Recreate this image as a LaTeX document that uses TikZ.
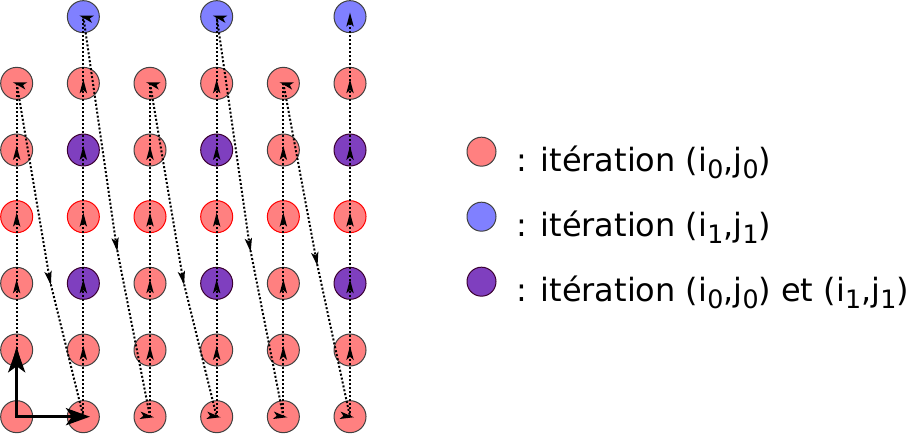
\documentclass[tikz,border=0pt]{standalone}
\usepackage{fontspec}
\setmainfont{DejaVu Sans}
\usetikzlibrary{arrows.meta}
\definecolor{salmon}{HTML}{FF8080}
\definecolor{lblue}{HTML}{8080FF}
\definecolor{lpurple}{HTML}{7F3FBF}
\definecolor{rimgray}{HTML}{404040}
\definecolor{rimpurple}{HTML}{3A0030}
\newcommand\lsub[1]{\raisebox{-0.2em}{\fontsize{19pt}{19pt}\selectfont #1}}
\begin{document}
\begin{tikzpicture}[x=0.75pt,y=-0.75pt,
  dot/.style={circle,draw=rimgray,line width=0.75pt,minimum size=24pt,inner sep=0pt,fill=salmon},
  itA/.style={fill=salmon},
  itB/.style={fill=lblue},
  itAB/.style={fill=lpurple,draw=rimpurple},
  rimred/.style={fill=salmon,draw=red},
  legdot/.style={dot,minimum size=21.75pt},
  dotline/.style={line width=1.5pt,dash pattern=on 1.5pt off 1.5pt},
  axisarrow/.style={line width=2.6pt,
    {Stealth[length=18pt,width=12.75pt,inset=4.5pt]}-{Stealth[length=18pt,width=12.75pt,inset=4.5pt]}},
  legtext/.style={anchor=base west,inner sep=0pt,font=\fontsize{24pt}{28pt}\selectfont},
  mk/.pic={\fill (3pt,0pt) -- (-7.5pt,2.8pt) -- (-5pt,0pt) -- (-7.5pt,-2.8pt) -- cycle;}
]
\useasboundingbox (0,0) rectangle (908,434);
% grid of iterations
\foreach \c/\rs in {1/2,2/1,3/2,4/1,5/2,6/1}{
  \foreach \r in {\rs,...,7}{
    \pgfmathtruncatemacro\kind{(\r==4) ? 1 : ((mod(\c,2)==0 && \r==1) ? 2 : ((mod(\c,2)==0 && (\r==3 || \r==5)) ? 3 : 0))}
    \ifcase\kind \tikzset{dotsty/.style={itA}}\or \tikzset{dotsty/.style={rimred}}\or \tikzset{dotsty/.style={itB}}\or \tikzset{dotsty/.style={itAB}}\fi
    \node[dot,dotsty] (c-\c-\r) at ({16.67+66.67*(\c-1)},{16.67+66.67*(\r-1)}) {};
  }
}
% bends of the diagonal runs
\coordinate (m12) at (50,281);
\coordinate (m23) at (116.7,247.5);
\coordinate (m34) at (183.3,281);
\coordinate (m45) at (250,248);
\coordinate (m56) at (316.7,262);
% dotted traversal
\foreach \c/\rs in {1/2,2/1,3/2,4/1,5/2,6/1}{
  \draw[dotline] (c-\c-7.center) -- (c-\c-\rs.center);
}
\draw[dotline] (c-1-2.center) -- (m12) -- (c-2-7.center);
\draw[dotline] (c-2-1.center) -- (m23) -- (c-3-7.center);
\draw[dotline] (c-3-2.center) -- (m34) -- (c-4-7.center);
\draw[dotline] (c-4-1.center) -- (m45) -- (c-5-7.center);
\draw[dotline] (c-5-2.center) -- (m56) -- (c-6-7.center);
% arrow marks
\foreach \c/\rs in {1/2,2/1,3/2,4/1,5/2,6/1}{
  \pgfmathtruncatemacro\rf{\rs+1}
  \foreach \r in {\rf,...,6}{
    \pic[rotate=90] at (c-\c-\r.center) {mk};
  }
}
\pic[rotate=165] at (c-1-2.center) {mk};
\pic[rotate=165] at (c-2-1.center) {mk};
\pic[rotate=165] at (c-3-2.center) {mk};
\pic[rotate=165] at (c-4-1.center) {mk};
\pic[rotate=165] at (c-5-2.center) {mk};
\pic[rotate=90] at (c-6-1.center) {mk};
\foreach \c in {2,...,6}{
  \pic[rotate=-8] at (c-\c-7.center) {mk};
}
\pic[rotate=-78.3] at (m12) {mk};
\pic[rotate=-80.3] at (m23) {mk};
\pic[rotate=-78.3] at (m34) {mk};
\pic[rotate=-80.2] at (m45) {mk};
\pic[rotate=-78.6] at (m56) {mk};
% axes
\draw[axisarrow,shorten <=-1.3pt,shorten >=-5pt] (c-1-6.center) -- (c-1-7.center) -- (c-2-7.center);
% legend
\node[legdot,itA] (l1) at (481.5,151.7) {};
\node[legdot,itB] (l2) at (481.5,216.7) {};
\node[legdot,itAB] (l3) at (481.5,281.7) {};
\node[legtext] (t1) at (516,172) {: itération (i\lsub{0},j\lsub{0})};
\node[legtext] (t2) at (516,237) {: itération (i\lsub{1},j\lsub{1})};
\node[legtext] (t3) at (516,302) {: itération (i\lsub{0},j\lsub{0}) et (i\lsub{1},j\lsub{1})};
\end{tikzpicture}
\end{document}
